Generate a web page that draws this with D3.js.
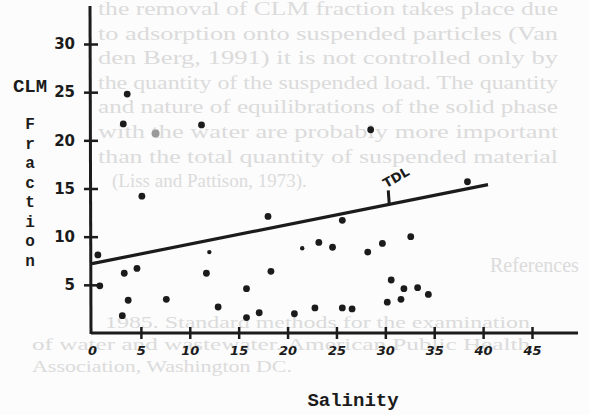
<!DOCTYPE html>
<html>
<head>
<meta charset="utf-8">
<script src="https://cdn.jsdelivr.net/npm/d3@7"></script>
<style>
    body { margin: 0; background: #fcfcfc; }
    svg { display: block; }
</style>
</head>
<body>
<script>
const W = 589;
const H = 415;

// data
const salinity = [3.6, 3.2, 11.2, 28.5, 38.4, 5.1, 0.6, 4.6, 3.3, 11.7, 0.8, 3.7, 7.6, 3.1,
    12.9, 15.8, 15.8, 18.0, 25.6, 23.2, 24.6, 28.2, 29.7, 32.6, 18.3, 30.6, 31.9, 33.3,
    34.4, 31.6, 30.2, 17.1, 20.7, 22.8, 25.6, 26.6];
const fraction = [24.8, 21.7, 21.6, 21.1, 15.7, 14.2, 8.1, 6.7, 6.2, 6.2, 4.9, 3.4, 3.5, 1.8,
    2.7, 4.6, 1.6, 12.1, 11.7, 9.4, 8.9, 8.4, 9.3, 10.0, 6.4, 5.5, 4.6, 4.7,
    4.0, 3.5, 3.2, 2.1, 2.0, 2.6, 2.6, 2.5];
const minorSalinity = [12.0, 21.5];
const minorFraction = [8.4, 8.8];
const fadedSalinity = [6.5];
const fadedFraction = [20.7];
const fitSalinity = [0, 40.5];
const fitFraction = [7.2, 15.4];
const xTicks = [0, 5, 10, 15, 20, 25, 30, 35, 40, 45];
const yTicks = [5, 10, 15, 20, 25, 30];
const yLetters = ["F", "r", "a", "c", "t", "i", "o", "n"];

// show-through text from the other side of the page
const pageLines = [
    "the removal of CLM fraction takes place due",
    "to adsorption onto suspended particles (Van",
    "den Berg, 1991) it is not controlled only by",
    "the quantity of the suspended load. The quantity",
    "and nature of equilibrations of the solid phase",
    "with the water are probably more important",
    "than the total quantity of suspended material",
    "(Liss and Pattison, 1973)."
];
const refLines = [
    "1985. Standard methods for the examination",
    "of water and wastewater. American Public Health",
    "Association, Washington DC."
];

const ink = "#1b1b1b";

const svg = d3
    .select("body")
    .append("svg")
    .attr("width", W)
    .attr("height", H);

svg.append("rect")
    .attr("width", W)
    .attr("height", H)
    .attr("fill", "#fcfcfc");

// faint page text
const ghost = svg.append("g")
    .style("font-family", "'Liberation Serif', serif")
    .style("font-size", "19px")
    .style("fill", "#dbdbdb");

pageLines.forEach(function (t, i) {
    const last = i === pageLines.length - 1;
    const line = ghost.append("text")
        .attr("x", last ? 112 : 98)
        .attr("y", 15 + i * 24.6)
        .text(t);
    if (!last) {
        line.attr("textLength", 460).attr("lengthAdjust", "spacingAndGlyphs");
    }
});

ghost.append("text")
    .attr("x", 490)
    .attr("y", 272)
    .style("font-size", "20px")
    .text("References");

refLines.forEach(function (t, i) {
    ghost.append("text")
        .attr("x", i === 0 ? 105 : 32)
        .attr("y", 328 + i * 22)
        .attr("textLength", i === 0 ? 425 : (i === 1 ? 498 : 260))
        .attr("lengthAdjust", "spacingAndGlyphs")
        .style("font-size", "17px")
        .text(t);
});

// scales
const x = d3.scaleLinear().domain([0, 45]).range([92, 532]);
const y = d3.scaleLinear().domain([0, 30]).range([333, 44]);

// axis lines
svg.append("line")
    .attr("x1", x(0) - 1)
    .attr("x2", 578)
    .attr("y1", y(0))
    .attr("y2", y(0))
    .style("stroke", ink)
    .style("stroke-width", 3);

svg.append("line")
    .attr("x1", x(0) - 1)
    .attr("x2", x(0) - 2)
    .attr("y1", y(0) + 1)
    .attr("y2", 6)
    .style("stroke", ink)
    .style("stroke-width", 3);

// x axis: cross ticks
const xAxis = svg.append("g")
    .attr("transform", "translate(0," + y(0) + ")")
    .call(d3.axisBottom(x).tickValues(xTicks).tickSize(6).tickPadding(7));
xAxis.select(".domain").remove();
xAxis.selectAll(".tick line")
    .attr("y1", -6)
    .attr("y2", 6)
    .style("stroke", ink)
    .style("stroke-width", 2.5);
xAxis.selectAll(".tick")
    .filter(function (d) { return d === 0; })
    .select("line")
    .remove();
xAxis.selectAll(".tick text")
    .style("font-family", "'DejaVu Sans', sans-serif")
    .style("font-weight", "bold")
    .style("font-style", "italic")
    .style("font-size", "13px")
    .style("fill", ink);

// y axis: cross ticks
const yAxis = svg.append("g")
    .attr("transform", "translate(" + (x(0) - 1) + ",0)")
    .call(d3.axisLeft(y).tickValues(yTicks).tickSize(7).tickPadding(9));
yAxis.select(".domain").remove();
yAxis.selectAll(".tick line")
    .attr("x1", -7)
    .attr("x2", 7)
    .style("stroke", ink)
    .style("stroke-width", 2.5);
yAxis.selectAll(".tick text")
    .style("font-family", "'DejaVu Sans', sans-serif")
    .style("font-weight", "bold")
    .style("font-size", "15px")
    .style("fill", ink);

// axis titles
svg.append("text")
    .attr("x", 30)
    .attr("y", 92)
    .attr("text-anchor", "middle")
    .style("font-family", "'Liberation Mono', monospace")
    .style("font-weight", "bold")
    .style("font-size", "19px")
    .style("fill", ink)
    .text("CLM");

svg.selectAll(".ylet")
    .data(yLetters)
    .enter()
    .append("text")
    .attr("class", "ylet")
    .attr("x", 30)
    .attr("y", function (d, i) { return 129 + i * 19.5; })
    .attr("text-anchor", "middle")
    .style("font-family", "'Liberation Mono', monospace")
    .style("font-weight", "bold")
    .style("font-size", "16px")
    .style("fill", ink)
    .text(function (d) { return d; });

svg.append("text")
    .attr("x", 353)
    .attr("y", 406)
    .attr("text-anchor", "middle")
    .style("font-family", "'Liberation Mono', monospace")
    .style("font-weight", "bold")
    .style("font-size", "19px")
    .style("fill", ink)
    .text("Salinity");

// fitted line
const fit = fitSalinity.map(function (s, i) { return [s, fitFraction[i]]; });
svg.append("path")
    .datum(fit)
    .attr("d", d3.line().x(function (d) { return x(d[0]); }).y(function (d) { return y(d[1]); }))
    .style("fill", "none")
    .style("stroke", ink)
    .style("stroke-width", 3.2);

// TDL label with its pointer
const tdlS = 30.4;
const tdlF = fitFraction[0] + (fitFraction[1] - fitFraction[0]) * (tdlS - fitSalinity[0]) / (fitSalinity[1] - fitSalinity[0]);
svg.append("line")
    .attr("x1", x(tdlS) - 1)
    .attr("y1", y(tdlF) - 14)
    .attr("x2", x(tdlS))
    .attr("y2", y(tdlF))
    .style("stroke", ink)
    .style("stroke-width", 3);
svg.append("text")
    .attr("transform", "translate(" + (x(tdlS) - 3) + "," + (y(tdlF) - 16) + ") rotate(-30)")
    .style("font-family", "'DejaVu Sans', sans-serif")
    .style("font-weight", "bold")
    .style("font-size", "13px")
    .style("fill", ink)
    .text("TDL");

// points
const pts = salinity.map(function (s, i) { return [s, fraction[i]]; });
svg.selectAll(".pt")
    .data(pts)
    .enter()
    .append("circle")
    .attr("class", "pt")
    .attr("cx", function (d) { return x(d[0]); })
    .attr("cy", function (d) { return y(d[1]); })
    .attr("r", 3.4)
    .style("fill", ink);

const minor = minorSalinity.map(function (s, i) { return [s, minorFraction[i]]; });
svg.selectAll(".mpt")
    .data(minor)
    .enter()
    .append("circle")
    .attr("class", "mpt")
    .attr("cx", function (d) { return x(d[0]); })
    .attr("cy", function (d) { return y(d[1]); })
    .attr("r", 2.2)
    .style("fill", ink);

const faded = fadedSalinity.map(function (s, i) { return [s, fadedFraction[i]]; });
svg.selectAll(".fpt")
    .data(faded)
    .enter()
    .append("circle")
    .attr("class", "fpt")
    .attr("cx", function (d) { return x(d[0]); })
    .attr("cy", function (d) { return y(d[1]); })
    .attr("r", 4)
    .style("fill", "#9a9a9a");
</script>
</body>
</html>
